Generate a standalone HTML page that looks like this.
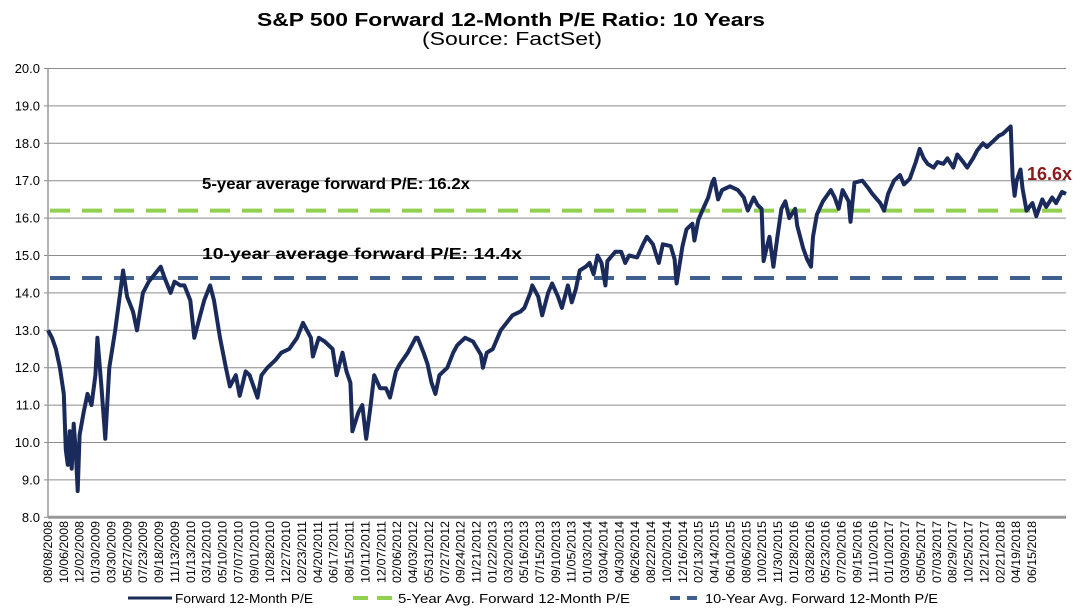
<!DOCTYPE html>
<html><head><meta charset="utf-8"><style>
body{margin:0;background:#fff;}
svg{display:block;font-family:"Liberation Sans",Arial,sans-serif;}
</style></head><body>
<svg id="chart" width="1081" height="612" viewBox="0 0 1081 612" xmlns="http://www.w3.org/2000/svg">
<text x="257" y="26" font-size="18" font-weight="bold" textLength="508" lengthAdjust="spacingAndGlyphs">S&amp;P 500 Forward 12-Month P/E Ratio: 10 Years</text>
<text x="422" y="45" font-size="18" textLength="180" lengthAdjust="spacingAndGlyphs">(Source: FactSet)</text>
<g id="grid"></g>
<g id="yticks"></g>
<g id="xticks"></g>
<g id="avgs"></g>
<g id="series"></g>
<text x="202" y="189" font-size="16" font-weight="bold" textLength="268" lengthAdjust="spacingAndGlyphs">5-year average forward P/E: 16.2x</text>
<text x="202" y="259" font-size="16" font-weight="bold" textLength="320" lengthAdjust="spacingAndGlyphs">10-year average forward P/E: 14.4x</text>
<text x="1027" y="180" font-size="18" font-weight="bold" fill="#8b1a1a">16.6x</text>
<g>
<line x1="128" y1="598" x2="172" y2="598" stroke="#1a2a5a" stroke-width="3"/>
<text x="175" y="603" font-size="13" textLength="138" lengthAdjust="spacingAndGlyphs">Forward 12-Month P/E</text>
<line x1="353" y1="598" x2="395" y2="598" stroke="#92d050" stroke-width="4" stroke-dasharray="15,9"/>
<text x="398" y="603" font-size="13" textLength="232" lengthAdjust="spacingAndGlyphs">5-Year Avg. Forward 12-Month P/E</text>
<line x1="670" y1="598" x2="700" y2="598" stroke="#3f5f8f" stroke-width="4" stroke-dasharray="10,7"/>
<text x="705" y="603" font-size="13" textLength="233" lengthAdjust="spacingAndGlyphs">10-Year Avg. Forward 12-Month P/E</text>
</g>
</svg>
<script>
const yTicks=[8,9,10,11,12,13,14,15,16,17,18,19,20];
const xLabels=["08/08/2008","10/06/2008","12/02/2008","01/30/2009","03/30/2009","05/27/2009","07/23/2009","09/18/2009","11/13/2009","01/13/2010","03/12/2010","05/10/2010","07/07/2010","09/01/2010","10/28/2010","12/27/2010","02/23/2011","04/20/2011","06/17/2011","08/15/2011","10/11/2011","12/07/2011","02/06/2012","04/03/2012","05/31/2012","07/27/2012","09/24/2012","11/21/2012","01/22/2013","03/20/2013","05/16/2013","07/15/2013","09/10/2013","11/05/2013","01/03/2014","03/04/2014","04/30/2014","06/26/2014","08/22/2014","10/20/2014","12/16/2014","02/13/2015","04/14/2015","06/10/2015","08/06/2015","10/02/2015","11/30/2015","01/28/2016","03/28/2016","05/23/2016","07/20/2016","09/15/2016","11/10/2016","01/10/2017","03/09/2017","05/05/2017","07/03/2017","08/29/2017","10/25/2017","12/21/2017","02/21/2018","04/19/2018","06/15/2018"];
const weeks=[0,2,4,6,8,9,10,11,12,13,14,15,16,18,20,22,24,25,27,29,31,34,36,38,40,43,45,48,51,54,57,59,62,64,67,69,72,74,77,79,82,84,87,90,92,95,97,100,102,106,108,111,115,118,122,126,129,133,134,137,140,144,146,149,151,153,154,157,159,161,163,165,168,171,173,176,178,182,186,187,190,192,194,196,198,202,205,207,211,215,219,220,222,225,229,232,235,239,241,244,245,248,250,253,255,258,260,263,265,267,269,272,274,276,278,280,282,283,287,290,292,294,298,301,303,306,309,311,315,317,318,321,323,326,327,329,331,334,336,337,339,341,345,349,352,354,357,359,361,362,364,365,367,369,371,373,375,378,379,382,384,386,387,389,392,396,398,400,402,405,406,408,412,415,417,421,423,425,428,431,433,436,439,441,443,445,448,450,453,455,458,460,463,465,468,470,473,475,478,481,483,486,487,488,489,490,492,493,495,498,500,503,505,508,510,513,515];
const pe=[13.0,12.8,12.5,12.0,11.3,9.8,9.4,10.3,9.3,10.5,9.8,8.7,10.2,10.8,11.3,11.0,11.8,12.8,11.5,10.1,12.0,13.0,13.8,14.6,13.9,13.5,13.0,14.0,14.3,14.5,14.7,14.4,14.0,14.3,14.2,14.2,13.8,12.8,13.4,13.8,14.2,13.8,12.8,12.0,11.5,11.8,11.25,11.9,11.8,11.2,11.8,12.0,12.2,12.4,12.5,12.8,13.2,12.8,12.3,12.8,12.7,12.5,11.8,12.4,11.9,11.6,10.3,10.8,11.0,10.1,10.9,11.8,11.45,11.45,11.2,11.9,12.1,12.4,12.8,12.8,12.4,12.1,11.6,11.3,11.8,12.0,12.4,12.6,12.8,12.7,12.35,12.0,12.4,12.5,13.0,13.2,13.4,13.5,13.6,14.0,14.2,13.9,13.4,14.0,14.25,13.9,13.6,14.2,13.75,14.1,14.6,14.7,14.8,14.5,15.0,14.8,14.2,14.85,15.1,15.1,14.8,15.0,14.95,15.3,15.5,15.3,14.8,15.3,15.25,14.9,14.25,15.25,15.7,15.85,15.4,15.95,16.2,16.55,16.95,17.05,16.5,16.75,16.85,16.75,16.55,16.2,16.55,16.35,16.25,14.85,15.3,15.5,14.7,15.5,16.25,16.45,16.0,16.25,15.8,15.2,14.9,14.7,15.5,16.1,16.45,16.75,16.55,16.25,16.75,16.45,15.9,16.95,17.0,16.8,16.65,16.4,16.2,16.65,17.0,17.15,16.9,17.05,17.5,17.85,17.6,17.45,17.35,17.5,17.45,17.6,17.35,17.7,17.5,17.35,17.6,17.8,18.0,17.9,18.05,18.2,18.25,18.4,18.45,17.1,16.6,17.0,17.3,16.8,16.2,16.4,16.05,16.5,16.3,16.55,16.4,16.7,16.65];
const avg5=16.2, avg10=14.4, maxWeek=515;

const NS="http://www.w3.org/2000/svg";
const L=48,R=1066,T=68.5,B=517.3,yMin=8,yMax=20;
const xW=w=>L+(w/maxWeek)*(R-L);
const yV=v=>B-(v-yMin)/(yMax-yMin)*(B-T);
function mk(tag,attrs,parent){const e=document.createElementNS(NS,tag);for(const k in attrs)e.setAttribute(k,attrs[k]);parent.appendChild(e);return e;}
const grid=document.getElementById('grid'),yt=document.getElementById('yticks'),xt=document.getElementById('xticks');
yTicks.forEach(v=>{
  const y=yV(v);
  const g=mk('line',{x1:L,x2:R,y1:y,y2:y,stroke:v===yMin?'#999':'#8c8c8c','stroke-width':v===yMin?3:1},grid);
  
  
  mk('line',{x1:L-4,x2:L,y1:y,y2:y,stroke:'#8c8c8c'},yt);
  const t=mk('text',{x:40,y:y+4.5,'text-anchor':'end','font-size':13},yt);
  t.textContent=v.toFixed(1);
  
  
});
mk('line',{x1:L,x2:L,y1:T,y2:B,stroke:'#999','stroke-width':1.5},yt);
const step=(1032-L)/(xLabels.length-1);
xLabels.forEach((s,i)=>{
  const x=L+i*step+4;
  const t=mk('text',{x:0,y:0,transform:`translate(${x},521) rotate(-90)`,'text-anchor':'end','font-size':11.5,textLength:62,lengthAdjust:'spacingAndGlyphs'},xt);
  t.textContent=s;
  
  
});
const av=document.getElementById('avgs');
const a5=mk('line',{x1:L+2,x2:1062,y1:yV(avg5),y2:yV(avg5),stroke:'#92d050','stroke-width':4,'stroke-dasharray':'20,12'},av);


const a10=mk('line',{x1:L+2,x2:1062,y1:yV(avg10),y2:yV(avg10),stroke:'#3f5f8f','stroke-width':4,'stroke-dasharray':'20,12'},av);


const pts=weeks.map((w,i)=>xW(w).toFixed(1)+','+yV(pe[i]).toFixed(1)).join(' ');
const pl=mk('polyline',{points:pts,fill:'none',stroke:'#1a2a5a','stroke-width':4,'stroke-linejoin':'round'},document.getElementById('series'));


</script>
</body></html>
